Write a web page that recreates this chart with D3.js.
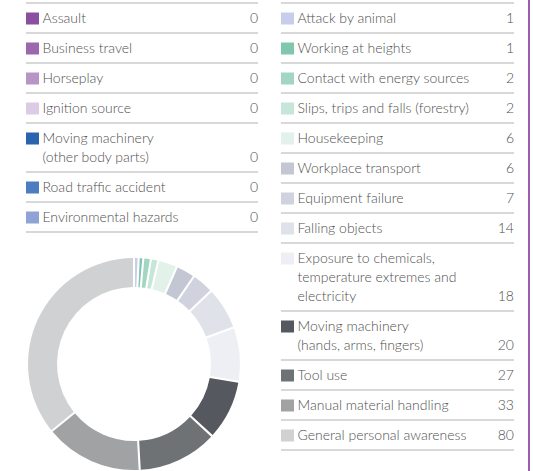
<!DOCTYPE html>
<html>
<head>
<meta charset="utf-8">
<script src="https://cdn.jsdelivr.net/npm/d3@7"></script>
<style>
  body { margin: 0; background: #fff; }
  svg { display: block; font-family: Lato, "Open Sans", sans-serif; }
</style>
</head>
<body>
<svg id="chart" width="533" height="471"></svg>
<script>
// left column (all zero, not in the donut)
const leftCategories = ["Assault", "Business travel", "Horseplay", "Ignition source",
  "Moving machinery\n(other body parts)", "Road traffic accident", "Environmental hazards"];
const leftValues = [0, 0, 0, 0, 0, 0, 0];
const leftColors = ["#8b4f9f", "#9c67ad", "#b796c6", "#dccbe4", "#2c63ae", "#4e7cc0", "#8fa4d4"];

// right column (these make up the donut, clockwise from 12 o'clock)
const rightCategories = ["Attack by animal", "Working at heights", "Contact with energy sources",
  "Slips, trips and falls (forestry)", "Housekeeping", "Workplace transport", "Equipment failure",
  "Falling objects", "Exposure to chemicals,\ntemperature extremes and\nelectricity",
  "Moving machinery\n(hands, arms, fingers)", "Tool use", "Manual material handling",
  "General personal awareness"];
const rightValues = [1, 1, 2, 2, 6, 6, 7, 14, 18, 20, 27, 33, 80];
const rightColors = ["#c7cdeb", "#80c7ad", "#a2d6c2", "#c5e6d9", "#e2f2eb", "#c3c7d3", "#d0d3de",
  "#e0e2ea", "#eeeff4", "#55585e", "#6f7275", "#a1a2a4", "#d0d1d3"];

const svg = d3.select("#chart");

const ROW = 30, EXTRA = 19;

function drawList(cats, vals, cols, x0, x1, top) {
  const g = svg.append("g");
  let y = top;
  g.append("line").attr("x1", x0).attr("x2", x1).attr("y1", y).attr("y2", y)
    .attr("stroke", "#cbcbcb").attr("stroke-width", 1.5);
  cats.forEach((c, i) => {
    const lines = c.split("\n");
    g.append("rect")
      .attr("x", x0).attr("y", y + 9.5)
      .attr("width", 13).attr("height", 12)
      .attr("fill", cols[i]);
    const t = g.append("text")
      .attr("x", x0 + 16.5).attr("y", y + 19.5)
      .attr("fill", "#505050").attr("font-size", 14).attr("font-weight", 300);
    lines.forEach((l, k) => {
      t.append("tspan").attr("x", x0 + 16.5).attr("dy", k ? EXTRA : 0).text(l);
    });
    g.append("text")
      .attr("x", x1).attr("y", y + 19.5 + (lines.length - 1) * EXTRA)
      .attr("text-anchor", "end")
      .attr("fill", "#505050").attr("font-size", 14).attr("font-weight", 300)
      .text(vals[i]);
    y += ROW + (lines.length - 1) * EXTRA;
    g.append("line").attr("x1", x0).attr("x2", x1).attr("y1", y).attr("y2", y)
      .attr("stroke", "#cbcbcb").attr("stroke-width", 1.5);
  });
}

drawList(leftCategories, leftValues, leftColors, 26, 258, 3);
drawList(rightCategories, rightValues, rightColors, 281, 514, 3);

// donut
const pie = d3.pie().sort(null).padAngle(0.016).value(d => d)(rightValues);
const arc = d3.arc().innerRadius(77).outerRadius(106);

svg.append("g")
  .attr("transform", "translate(134,364)")
  .selectAll("path")
  .data(pie)
  .join("path")
  .attr("d", arc)
  .attr("fill", (d, i) => rightColors[i]);

// purple frame edge on the right
svg.append("line")
  .attr("x1", 529).attr("x2", 529).attr("y1", 0).attr("y2", 471)
  .attr("stroke", "#9a5db1").attr("stroke-width", 2);
</script>
</body>
</html>
